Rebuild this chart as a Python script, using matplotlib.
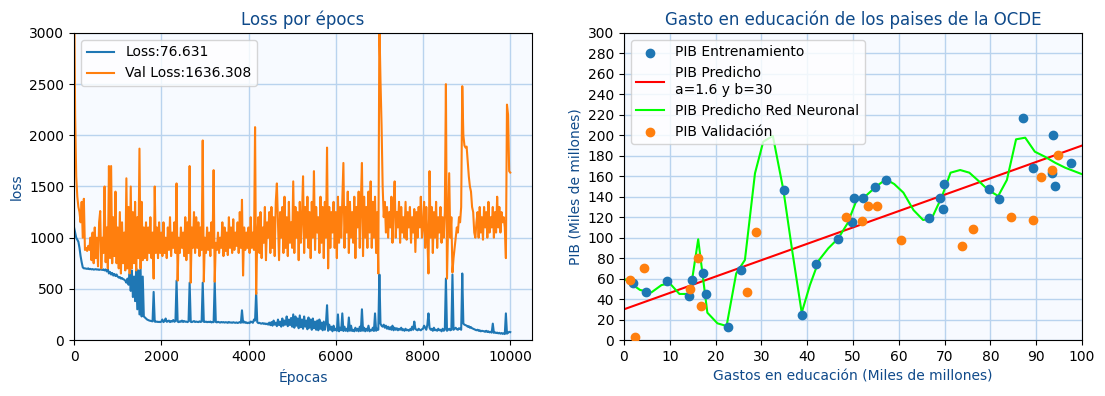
import numpy as np
import matplotlib
matplotlib.use("Agg")
import matplotlib.pyplot as plt

# ---------------- data: loss per epoch (sampled every 25 epochs) ----------------
epoch_step = 25
train_loss = [
    # 0 - 975
    1100, 1050, 1000, 980, 960, 900, 820, 760, 710, 700, 700, 698, 695, 700, 692, 695, 690, 693, 688, 690,
    692, 688, 690, 685, 690, 688, 685, 690, 680, 690, 670, 690, 650, 665, 640, 655, 630, 645, 625, 640,
    # 1000 - 1975
    620, 610, 615, 600, 605, 595, 590, 580, 560, 600, 540, 650, 480, 680, 420, 620, 380, 700, 300, 680,
    250, 700, 230, 620, 230, 220, 210, 200, 195, 190, 188, 185, 182, 470, 180, 178, 180, 176, 178, 175,
    # 2000 - 2975
    180, 200, 175, 185, 210, 178, 182, 190, 175, 185, 180, 195, 178, 185, 580, 180, 175, 182, 178, 190,
    176, 185, 178, 180, 175, 182, 560, 178, 175, 180, 185, 176, 180, 178, 175, 182, 176, 180, 560, 178,
    # 3000 - 3975
    176, 180, 174, 178, 175, 180, 172, 176, 174, 570, 176, 172, 178, 174, 170, 176, 172, 175, 170, 174,
    172, 168, 176, 170, 172, 168, 174, 170, 168, 172, 166, 170, 175, 168, 290, 170, 180, 168, 172, 165,
    # 4000 - 4975
    170, 165, 180, 175, 168, 200, 190, 470, 175, 165, 168, 162, 160, 165, 158, 162, 155, 160, 150, 170,
    145, 175, 140, 190, 150, 170, 135, 200, 145, 180, 130, 210, 140, 190, 150, 230, 135, 200, 145, 215,
    # 5000 - 5975
    130, 250, 120, 230, 140, 210, 115, 240, 125, 200, 110, 230, 130, 190, 105, 220, 120, 200, 100, 210,
    115, 180, 100, 190, 95, 200, 110, 170, 95, 180, 100, 160, 340, 90, 150, 100, 130, 85, 140, 95,
    # 6000 - 6975
    110, 90, 250, 85, 120, 95, 260, 88, 130, 90, 110, 85, 220, 90, 140, 88, 100, 85, 120, 90,
    110, 85, 130, 88, 300, 90, 120, 85, 110, 90, 140, 85, 100, 92, 120, 88, 260, 90, 110, 100,
    # 7000 - 7975
    640, 160, 140, 130, 150, 120, 140, 110, 130, 105, 125, 100, 140, 95, 120, 100, 115, 95, 110, 100,
    120, 95, 105, 90, 110, 95, 100, 90, 105, 95, 130, 100, 180, 110, 100, 95, 110, 100, 95, 105,
    # 8000 - 8975
    110, 140, 120, 100, 150, 260, 120, 100, 110, 90, 120, 95, 100, 90, 110, 95, 100, 85, 110, 90,
    100, 600, 90, 100, 110, 95, 100, 640, 100, 110, 120, 105, 100, 115, 110, 100, 650, 160, 150, 145,
    # 9000 - 10000
    140, 130, 135, 120, 125, 115, 110, 105, 100, 95, 100, 90, 95, 85, 90, 88, 85, 80, 90, 78,
    85, 75, 80, 72, 160, 70, 75, 68, 72, 65, 70, 62, 68, 60, 65, 58, 260, 62, 70, 80, 77,
]
val_loss = [
    # 0 - 975
    3500, 2200, 1600, 1400, 1300, 1250, 1150, 1350, 1000, 1380, 880, 900, 870, 920, 880, 1000, 780, 1050, 750, 1100,
    800, 1000, 720, 1150, 1260, 700, 1000, 850, 1500, 760, 1100, 700, 1700, 800, 1700, 750, 1200, 820, 1450, 750,
    # 1000 - 1975
    1100, 700, 1250, 650, 1150, 750, 1050, 680, 1580, 700, 1300, 650, 1500, 700, 1250, 750, 1350, 680, 1200, 800,
    1870, 700, 1350, 780, 1100, 800, 1150, 780, 1100, 850, 1200, 800, 1050, 600, 1500, 850, 1100, 800, 1150, 850,
    # 2000 - 2975
    1050, 820, 1150, 850, 1000, 800, 1100, 880, 1200, 820, 1050, 900, 1150, 850, 1530, 580, 1000, 850, 1100, 900,
    1050, 820, 1200, 780, 1150, 850, 1700, 560, 1100, 900, 1250, 850, 1200, 900, 1150, 820, 1100, 880, 1950, 570,
    # 3000 - 3975
    1000, 850, 1100, 880, 1050, 820, 1150, 900, 1660, 570, 950, 880, 1050, 850, 1000, 900, 1150, 820, 1100, 870,
    1050, 830, 1200, 900, 1100, 850, 1180, 880, 1050, 920, 1150, 850, 1250, 900, 1370, 630, 1100, 880, 1050, 900,
    # 4000 - 4975
    1100, 850, 1200, 900, 1050, 880, 2080, 450, 1000, 1200, 850, 1250, 800, 1100, 950, 1300, 780, 1150, 1000, 1250,
    850, 1300, 900, 1200, 820, 1350, 1530, 1150, 780, 1250, 1000, 1300, 850, 1400, 900, 1200, 820, 1350, 950, 1150,
    # 5000 - 5975
    900, 1550, 850, 1300, 1000, 1250, 780, 1350, 950, 1200, 1600, 850, 1300, 1000, 1400, 900, 1250, 800, 1350, 1000,
    1650, 880, 1300, 1050, 1200, 850, 1400, 950, 1300, 800, 1350, 1000, 1880, 700, 1300, 900, 1250, 1050, 1350, 900,
    # 6000 - 6975
    1250, 800, 1400, 950, 1300, 1000, 1350, 1730, 900, 1300, 1050, 1450, 850, 1350, 1000, 1250, 950, 1400, 800, 1300,
    1100, 1450, 900, 1350, 1730, 820, 1400, 1000, 1300, 900, 1450, 1050, 1550, 900, 1350, 1000, 1400, 850, 1250, 650,
    # 7000 - 7975
    3100, 2540, 2100, 1500, 1200, 1350, 1050, 1300, 1000, 1250, 1100, 1400, 950, 1300, 1550, 1000, 1250, 1100, 1350, 950,
    1300, 1050, 1200, 1000, 1350, 980, 1250, 1100, 1300, 950, 1200, 1050, 1280, 860, 1250, 1000, 1300, 1100, 1400, 1000,
    # 8000 - 8975
    1100, 1350, 900, 1300, 1000, 650, 1650, 1000, 1300, 850, 1250, 1000, 1350, 900, 1200, 1050, 1300, 950, 1200, 1000,
    1250, 2500, 600, 1100, 1630, 1000, 1200, 660, 800, 900, 1000, 1100, 1050, 1200, 1150, 1300, 2480, 2000, 1900, 1880,
    # 9000 - 10000
    1890, 1750, 1600, 1500, 1450, 1300, 1250, 1050, 1000, 1150, 1250, 1000, 1300, 1050, 1200, 980, 1300, 1100, 1250, 1000,
    1350, 1050, 1200, 1100, 1300, 1000, 1250, 1050, 1400, 1100, 1300, 1050, 1250, 1150, 1200, 1100, 800, 2300, 2200, 1650, 1636,
]
train_label = "Loss:76.631"
val_label = "Val Loss:1636.308"

# ---------------- data: OECD education spending ----------------
train_x = [1.9, 4.9, 9.3, 14.3, 14.9, 17.3, 17.8, 22.6, 25.5, 34.9, 38.9, 42.0, 46.8, 49.7, 50.3,
           52.1, 54.7, 57.3, 66.5, 69.1, 69.6, 69.9, 79.8, 81.9, 87.2, 89.2, 93.4, 93.7, 94.2, 97.5]
train_y = [55.4, 46.6, 58.0, 43.0, 58.6, 65.0, 44.6, 12.4, 68.4, 146.3, 24.1, 74.0, 98.7, 115.0, 138.5,
           138.5, 149.5, 156.4, 118.9, 138.5, 127.7, 152.1, 147.2, 137.5, 216.6, 167.8, 162.9, 200.0, 150.2, 172.7]
val_x = [1.3, 2.4, 4.4, 14.4, 16.2, 16.8, 26.9, 28.8, 48.5, 52.0, 53.3, 55.2, 60.5, 73.7, 76.3,
         84.6, 89.4, 91.1, 93.5, 94.8]
val_y = [58.6, 2.9, 70.0, 49.5, 80.5, 33.2, 46.6, 105.2, 119.9, 116.3, 131.0, 131.0, 97.4, 91.5, 108.8,
         119.9, 117.0, 159.3, 165.8, 180.5]
a_coef, b_coef = 1.6, 30
line_x = [0, 100]
nn_x = [0.2, 3.5, 6.0, 8.2, 10.0, 12.1, 14.4, 16.2, 18.2, 20.4, 22.4, 24.5, 26.4, 28.6, 30.4, 32.5,
        34.8, 36.7, 38.8, 40.6, 42.6, 44.6, 46.8, 48.8, 50.8, 53.0, 55.2, 57.2, 59.0, 61.0, 63.2,
        65.3, 67.2, 69.4, 71.3, 73.4, 75.4, 77.6, 79.5, 81.7, 83.6, 85.6, 87.6, 89.7, 91.9, 94.1, 96.3, 99.9]
nn_y = [59.3, 48.9, 46.6, 53.7, 55.4, 45.0, 45.0, 98.4, 26.7, 16.3, 13.7, 65.1, 78.2, 162.9, 193.8, 199.4,
        146.6, 88.0, 26.7, 53.7, 78.2, 89.6, 99.4, 114.0, 136.8, 141.7, 150.5, 157.0, 152.4, 144.0, 127.0,
        117.3, 118.9, 140.0, 163.5, 166.1, 163.5, 154.7, 146.6, 140.7, 156.4, 196.1, 197.7, 184.0, 179.1, 173.3, 168.4, 162.2]

# ---------------- styling ----------------
title_color = "#0f4a8a"
grid_color = "#b9d3ee"
face_color = "#f7faff"

fig = plt.figure(figsize=(11.05, 3.96), dpi=100)
ax1 = fig.add_axes([0.067, 0.1414, 0.4145, 0.7753])
ax2 = fig.add_axes([0.5647, 0.1414, 0.4145, 0.7753])

epochs = np.arange(len(train_loss)) * epoch_step
ax1.set_facecolor(face_color)
ax1.grid(True, color=grid_color, linewidth=1)
ax1.set_axisbelow(True)
ax1.plot(epochs, train_loss, color="#1f77b4", label=train_label, lw=1.5)
ax1.plot(np.arange(len(val_loss)) * epoch_step, val_loss, color="#ff7f0e", label=val_label, lw=1.5)
ax1.set_xlim(0, 10500)
ax1.set_ylim(0, 3000)
ax1.set_title("Loss por épocs", color=title_color, fontsize=12)
ax1.set_xlabel("Épocas", color=title_color)
ax1.set_ylabel("loss", color=title_color)
ax1.legend(loc="upper left")

ax2.set_facecolor(face_color)
ax2.grid(True, color=grid_color, linewidth=1)
ax2.set_axisbelow(True)
ax2.scatter(train_x, train_y, color="#1f77b4", label="PIB Entrenamiento", zorder=3)
lx = np.array(line_x, dtype=float)
ax2.plot(lx, a_coef * lx + b_coef, color="red", label="PIB Predicho\na=1.6 y b=30", zorder=2)
ax2.plot(nn_x, nn_y, color="#00ff00", label="PIB Predicho Red Neuronal", zorder=2)
ax2.scatter(val_x, val_y, color="#ff7f0e", label="PIB Validación", zorder=3)
ax2.set_xlim(0, 100)
ax2.set_ylim(0, 300)
ax2.set_xticks(np.arange(0, 101, 10))
ax2.set_yticks(np.arange(0, 301, 20))
ax2.set_title("Gasto en educación de los paises de la OCDE", color=title_color, fontsize=12)
ax2.set_xlabel("Gastos en educación (Miles de millones)", color=title_color)
ax2.set_ylabel("PIB (Miles de millones)", color=title_color)
ax2.legend(loc="upper left")

fig.savefig("out.png", dpi=100)
